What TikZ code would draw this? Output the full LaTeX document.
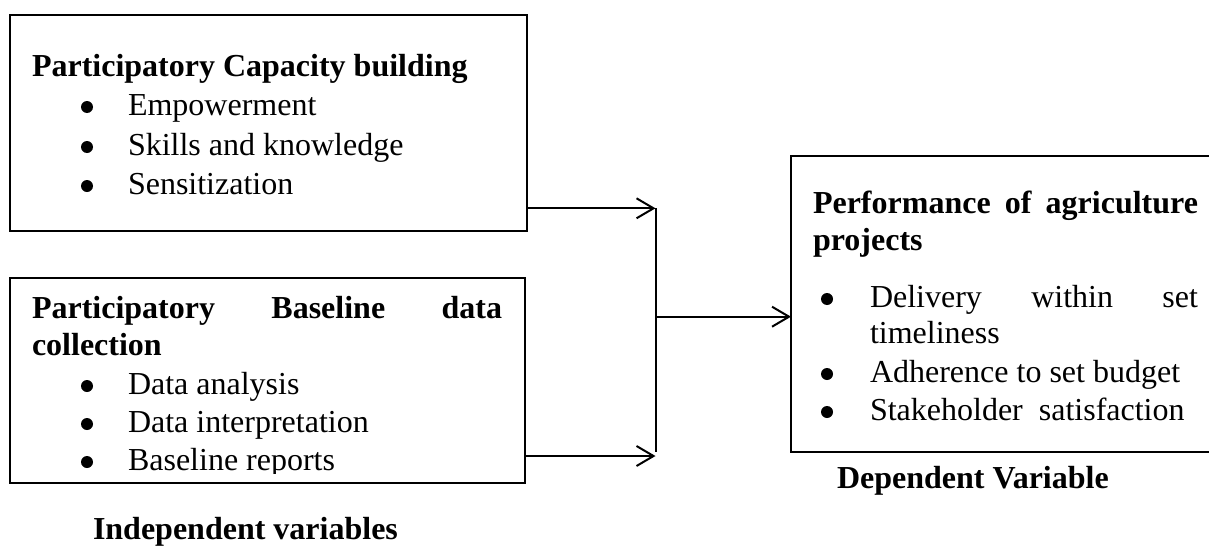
\documentclass[tikz,border=0pt]{standalone}
\usepackage{fontspec}
\setmainfont{Liberation Serif}
\usetikzlibrary{arrows.meta}
\newcommand\diagfont{\fontsize{32pt}{38pt}\selectfont}
\begin{document}
\begin{tikzpicture}[x=1pt,y=-1pt,
  box/.style={draw, line width=2.7pt, inner sep=0pt, outer sep=0pt, anchor=north west},
  txt/.style={anchor=base west, inner sep=0pt, outer sep=0pt, font=\diagfont},
  head/.style={txt, font=\diagfont\bfseries},
  dot/.style={fill, circle, inner sep=0pt, minimum size=12pt},
  link/.style={line width=2pt},
  arrowlink/.style={link, -{Straight Barb[length=17pt,width=20pt]}},
]
\useasboundingbox (0,0) rectangle (1209,546);

% frames of the three variable groups
\node[box, minimum width=517pt, minimum height=216pt] (b1) at (10,15) {};
\node[box, minimum width=515pt, minimum height=205pt] (b2) at (10,278) {};
\node[box, minimum width=440pt, minimum height=296pt] (b3) at (791,156) {};

% capacity building
\node[head] (t1) at (32,76) {Participatory Capacity building};
\node[dot] (d1a) at (87,107) {};
\node[txt] (t1a) at (128,115) {Empowerment};
\node[dot] (d1b) at (87,147) {};
\node[txt] (t1b) at (128,155) {Skills and knowledge};
\node[dot] (d1c) at (87,186) {};
\node[txt] (t1c) at (128,194) {Sensitization};

% baseline data collection
\node[head] (t2) at (32,318) {\makebox[470pt][s]{Participatory Baseline data}};
\node[head] (t2x) at (32,355) {collection};
\node[dot] (d2a) at (87,386) {};
\node[txt] (t2a) at (128,394) {Data analysis};
\node[dot] (d2b) at (87,424) {};
\node[txt] (t2b) at (128,432) {Data interpretation};
\node[dot] (d2c) at (87,462) {};
\begin{scope}
  \clip (0,0) rectangle (1209,473);
  \node[txt] (t2c) at (128,470) {Baseline reports};
\end{scope}

% project performance
\node[head] (t3) at (813,213) {\makebox[385pt][s]{Performance of agriculture}};
\node[head] (t3x) at (813,250) {projects};
\node[dot] (d3a) at (827,299) {};
\node[txt] (t3a) at (870,307) {\makebox[328pt][s]{Delivery within set}};
\node[txt] (t3ax) at (870,343) {timeliness};
\node[dot] (d3b) at (827,374) {};
\node[txt] (t3b) at (870,382) {Adherence to set budget};
\node[dot] (d3c) at (827,412) {};
\node[txt] (t3c) at (870,420) {Stakeholder\ \ satisfaction};

% group captions
\node[head] (lind) at (93,539) {Independent variables};
\node[head] (ldep) at (837,488) {Dependent Variable};

% connectors
\coordinate (j1) at (655.5,208.3);
\coordinate (j2) at (655.5,456);
\coordinate (jbot) at (655.5,452);
\coordinate (jm) at (655.5,316.7);
\draw[arrowlink] (b1.east |- j1) -- (j1);
\draw[arrowlink] (b2.east |- j2) -- (j2);
\draw[link] (j1) -- (jbot);
\draw[arrowlink] (jm) -- (jm -| b3.west);
\end{tikzpicture}
\end{document}
